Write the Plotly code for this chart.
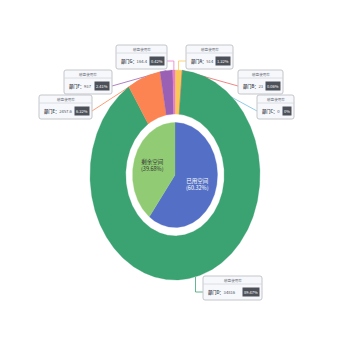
import numpy as np
import plotly.graph_objects as go

# ---------------- data ----------------
outer_names = ["部门A", "部门B", "部门C", "部门D", "部门E", "部门F", "部门G"]
outer_values = [514, 23, 0, 34816, 2457.6, 937, 164.4]
inner_names = ["已用空间", "剩余空间"]
inner_values = [60.32, 39.68]
series_name = "磁盘使用率"

# ---------------- style ----------------
outer_colors = ["#fac858", "#ee6666", "#73c0de", "#3ba272", "#fc8452", "#9a60b4", "#ea7ccc"]
inner_colors = ["#5470c6", "#91cc75"]
inner_text_colors = ["#ffffff", "#333333"]
CX, CY = 175, 175          # pixel centre
RX, RY = 85, 105           # outer ellipse radii (px)
RING_IN = 0.58             # ring inner radius fraction
PIE_R = 0.5                # inner pie radius fraction
FONT = "Noto Sans CJK SC"

# label boxes: (left, top, right, bottom, elbow)
boxes = {
    "部门A": (186, 45, 233, 69, True),
    "部门B": (238, 70, 283, 94, False),
    "部门C": (257, 95, 294, 119, False),
    "部门D": (203, 276, 262, 300, True),
    "部门E": (39, 95, 92, 119, False),
    "部门F": (64, 70, 112, 94, False),
    "部门G": (116, 45, 167, 69, True),
}


def pt(theta, frac):
    return CX + RX * frac * np.sin(theta), CY - RY * frac * np.cos(theta)


def arc(t0, t1, frac, n=None):
    if n is None:
        n = max(3, int(abs(t1 - t0) / (2 * np.pi) * 400) + 2)
    t = np.linspace(t0, t1, n)
    return CX + RX * frac * np.sin(t), CY - RY * frac * np.cos(t)


fig = go.Figure()

total = float(sum(outer_values))
fracs = [v / total for v in outer_values]
cum = np.concatenate([[0], np.cumsum(fracs)])

# leader lines (drawn below the pie)
for i, name in enumerate(outer_names):
    mid = (cum[i] + cum[i + 1]) / 2 * 2 * np.pi
    ax_, ay_ = pt(mid, 1.0)
    l, t, r, b, elbow = boxes[name]
    ey = t + 8 + (b - t - 8) / 2
    ex = l if l > ax_ else r
    if elbow:
        xs, ys = [ax_, ax_, ex], [ay_, ey, ey]
    else:
        xs, ys = [ax_, ex], [ay_, ey]
    fig.add_trace(go.Scatter(x=xs, y=ys, mode="lines",
                             line=dict(color=outer_colors[i], width=0.8),
                             hoverinfo="skip"))

# outer ring
for i, name in enumerate(outer_names):
    if fracs[i] <= 0:
        continue
    t0, t1 = cum[i] * 2 * np.pi, cum[i + 1] * 2 * np.pi
    ox, oy = arc(t0, t1, 1.0)
    ix, iy = arc(t1, t0, RING_IN)
    fig.add_trace(go.Scatter(x=np.concatenate([ox, ix, ox[:1]]),
                             y=np.concatenate([oy, iy, oy[:1]]),
                             mode="lines", fill="toself",
                             fillcolor=outer_colors[i],
                             line=dict(color=outer_colors[i], width=0.3),
                             hoverinfo="text", text=name))

# inner pie
itotal = float(sum(inner_values))
ifr = [v / itotal for v in inner_values]
icum = np.concatenate([[0], np.cumsum(ifr)])
for i, name in enumerate(inner_names):
    t0, t1 = icum[i] * 2 * np.pi, icum[i + 1] * 2 * np.pi
    ox, oy = arc(t0, t1, PIE_R)
    fig.add_trace(go.Scatter(x=np.concatenate([[CX], ox, [CX]]),
                             y=np.concatenate([[CY], oy, [CY]]),
                             mode="lines", fill="toself",
                             fillcolor=inner_colors[i],
                             line=dict(color=inner_colors[i], width=0.3),
                             hoverinfo="text", text=name))
    mid = (t0 + t1) / 2
    lx, ly = pt(mid, PIE_R * 0.55)
    pct = round(ifr[i] * 100, 2)
    fig.add_annotation(x=lx, y=ly, text=f"{name}<br>({pct:g}%)", showarrow=False,
                       font=dict(family=FONT, size=5.5, color=inner_text_colors[i]))

# label boxes
shapes = []


def rrect(l, t, r, b, rad=2):
    return (f"M{l+rad},{t} L{r-rad},{t} Q{r},{t} {r},{t+rad} L{r},{b-rad} Q{r},{b} {r-rad},{b} "
            f"L{l+rad},{b} Q{l},{b} {l},{b-rad} L{l},{t+rad} Q{l},{t} {l+rad},{t} Z")


for i, name in enumerate(outer_names):
    l, t, r, b, _ = boxes[name]
    shapes.append(dict(type="path", path=rrect(l, t, r, b), xref="x", yref="y",
                       fillcolor="#F6F8FC", line=dict(color="#C4C6CA", width=1)))
    shapes.append(dict(type="line", x0=l, x1=r, y0=t + 8, y1=t + 8, xref="x", yref="y",
                       line=dict(color="#D4D6DA", width=0.8)))
    fig.add_annotation(x=(l + r) / 2, y=t + 4, text=series_name, showarrow=False,
                       font=dict(family=FONT, size=3.6, color="#6E7079"))
    by = t + 8 + (b - t - 8) / 2
    fig.add_annotation(x=l + 2.5, y=by, xanchor="left",
                       text=f"<b>{name}：</b>{outer_values[i]:g}",
                       showarrow=False,
                       font=dict(family=FONT, size=4.2, color="#4C5058"))
    pct = round(fracs[i] * 100, 2)
    fig.add_annotation(x=r - 2.5, y=by, xanchor="right", text=f"{pct:g}%", showarrow=False,
                       bgcolor="#4C5058", borderpad=1,
                       font=dict(family=FONT, size=4, color="#ffffff"))

fig.update_layout(
    width=350, height=350, margin=dict(l=0, r=0, t=0, b=0),
    paper_bgcolor="white", plot_bgcolor="white", showlegend=False,
    xaxis=dict(range=[0, 350], visible=False, fixedrange=True),
    yaxis=dict(range=[350, 0], visible=False, fixedrange=True),
    shapes=shapes,
)

fig.write_html("out.html")
